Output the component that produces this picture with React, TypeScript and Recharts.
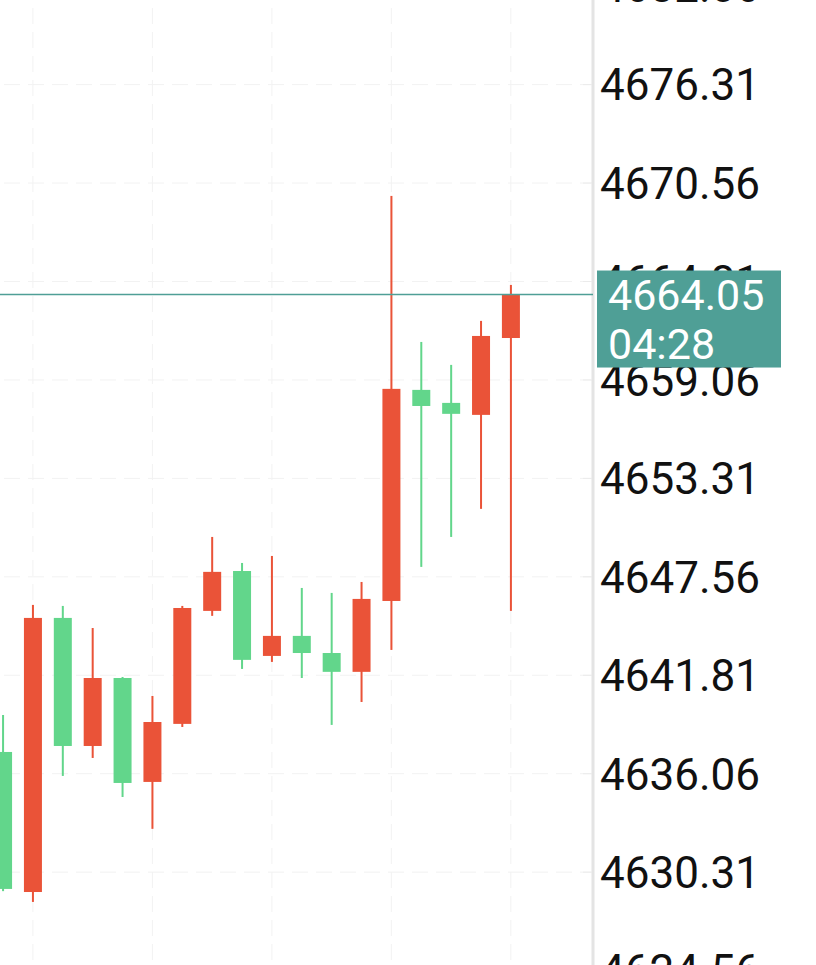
import { ComposedChart, Bar, XAxis, YAxis, CartesianGrid, ReferenceLine } from 'recharts'

// Chinese convention: red = close above open, green = close below open
const UP_COLOR = '#EA5338'
const DOWN_COLOR = '#62D68B'
const PRICE_COLOR = '#4F9F96'

const opens = [4637.33, 4629.15, 4645.16, 4637.68, 4641.65, 4635.58, 4638.97, 4645.57, 4647.9, 4642.94, 4644.11, 4643.11, 4642.01, 4646.15, 4658.48, 4657.72, 4657.02, 4661.51]
const highs = [4639.49, 4645.92, 4645.86, 4644.57, 4641.71, 4640.6, 4645.86, 4649.89, 4648.37, 4648.78, 4646.91, 4646.62, 4647.26, 4669.81, 4661.28, 4659.94, 4662.51, 4664.61]
const lows = [4629.2, 4628.57, 4635.93, 4636.98, 4634.7, 4632.84, 4638.79, 4645.28, 4642.18, 4642.59, 4641.65, 4638.91, 4640.25, 4643.29, 4648.14, 4649.89, 4651.53, 4645.57]
const closes = [4629.33, 4645.16, 4637.68, 4641.65, 4635.52, 4639.08, 4645.74, 4647.85, 4642.71, 4644.11, 4643.11, 4642.01, 4646.27, 4658.54, 4657.54, 4657.08, 4661.63, 4664.05]

const priceTicks = [4682.06, 4676.31, 4670.56, 4664.81, 4659.06, 4653.31, 4647.56, 4641.81, 4636.06, 4630.31, 4624.56]
const gridIndexes = [1, 5, 9, 13, 17]
const lastPrice = 4664.05
const countdown = '04:28'

const X_DOMAIN: [number, number] = [-0.77, 19.75]
const Y_DOMAIN: [number, number] = [4622.55, 4683.59]

const data = opens.map((open, i) => ({
  i,
  open,
  high: highs[i],
  low: lows[i],
  close: closes[i],
  range: [lows[i], highs[i]],
}))

function Candle(props: any) {
  const { x, y, width, height, payload } = props
  const top = Math.min(y, y + height)
  const h = Math.abs(height)
  const { open, close, high, low } = payload
  const k = high === low ? 0 : h / (high - low)
  const yOf = (v: number) => top + (high - v) * k
  const cx = x + width / 2
  const color = close >= open ? UP_COLOR : DOWN_COLOR
  const bodyTop = yOf(Math.max(open, close))
  const bodyH = Math.max(2, yOf(Math.min(open, close)) - bodyTop)
  return (
    <g>
      <rect x={cx - 1} y={top} width={2} height={h} fill={color} />
      <rect x={x} y={bodyTop} width={width} height={bodyH} fill={color} />
    </g>
  )
}

function PriceTick(props: any) {
  const { x, y, payload } = props
  return (
    <g>
      <line x1={x - 10} x2={x - 1} y1={y} y2={y} stroke="#ebebeb" strokeWidth={1} />
      <text x={x + 7} y={y} dy="0.36em" textAnchor="start" fontSize={44} fontFamily="Roboto" fill="#111">
        {Number(payload.value).toFixed(2)}
      </text>
    </g>
  )
}

function PriceTag(props: any) {
  const vb = props.viewBox || {}
  const left = vb.x + vb.width + 4
  const mid = vb.y
  return (
    <g>
      <rect x={left} y={mid - 24} width={184} height={97} fill={PRICE_COLOR} />
      <text x={left + 11} y={mid} dy="0.36em" fontSize={43} fontFamily="Roboto" fill="#fff">
        {lastPrice.toFixed(2)}
      </text>
      <text x={left + 11} y={mid + 49} dy="0.36em" fontSize={43} fontFamily="Roboto" fill="#fff">
        {countdown}
      </text>
    </g>
  )
}

const chartStyle = { position: 'absolute' as const, left: -20, top: -40 }
const chartMargin = { top: 0, right: 0, bottom: 0, left: 0 }

export default function App() {
  return (
    <div style={{ position: 'relative', width: 816, height: 965, overflow: 'hidden', background: '#fff' }}>
      <style>{'body{margin:0}'}</style>
      <ComposedChart width={836} height={1045} data={data} margin={chartMargin} style={chartStyle}>
        <CartesianGrid stroke="#f2f2f2" strokeDasharray="16 8" />
        <XAxis type="number" dataKey="i" domain={X_DOMAIN} allowDataOverflow ticks={gridIndexes} hide />
        <YAxis
          orientation="right"
          width={223}
          domain={Y_DOMAIN}
          allowDataOverflow
          ticks={priceTicks}
          interval={0}
          axisLine={{ stroke: '#e4e4e4', strokeWidth: 3 }}
          tickLine={false}
          tickSize={0}
          tickMargin={0}
          tick={<PriceTick />}
        />
        <Bar dataKey="range" barSize={18} shape={<Candle />} isAnimationActive={false} />
      </ComposedChart>
      {/* overlay: last-price line and tag drawn above the axis labels */}
      <ComposedChart width={836} height={1045} data={data} margin={chartMargin} style={chartStyle}>
        <XAxis type="number" dataKey="i" domain={X_DOMAIN} allowDataOverflow hide />
        <YAxis orientation="right" width={223} domain={Y_DOMAIN} allowDataOverflow axisLine={false} tickLine={false} tick={false} />
        <ReferenceLine y={lastPrice} stroke={PRICE_COLOR} strokeWidth={1.5} label={<PriceTag />} />
      </ComposedChart>
    </div>
  )
}
